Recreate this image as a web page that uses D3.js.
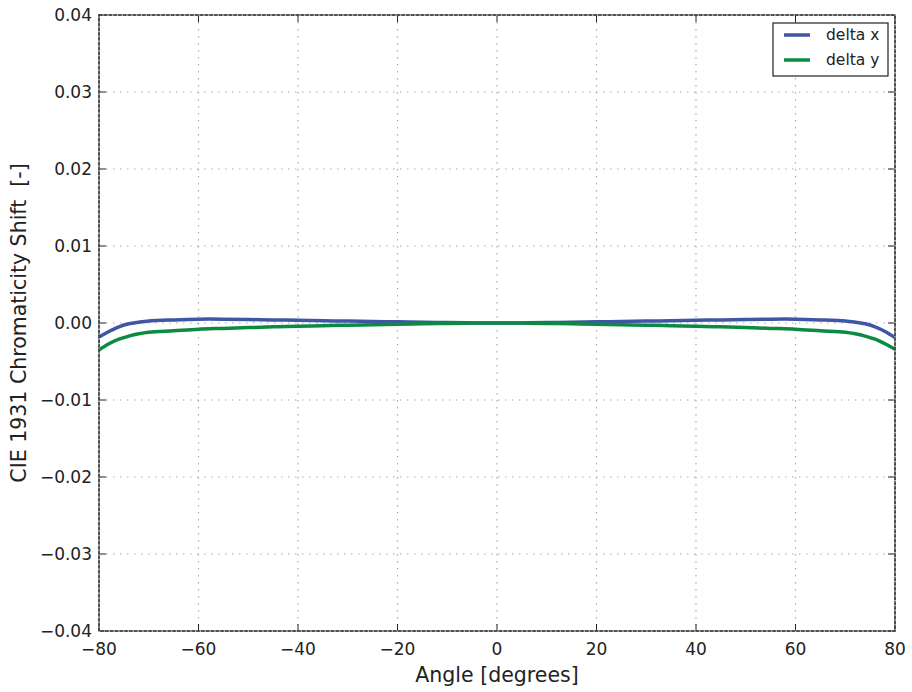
<!DOCTYPE html>
<html><head><meta charset="utf-8">
<script src="https://cdn.jsdelivr.net/npm/d3@7"></script>
<style>body{margin:0;background:#fff;} text{font-family:"DejaVu Sans",sans-serif;fill:#222;white-space:pre;}</style>
</head><body>
<svg id="c" width="912" height="692"></svg>
<script>
const angles = [-80,-78,-76,-74,-72,-70,-65,-60,-55,-50,-45,-40,-35,-30,-25,-20,-15,-10,-5,0,5,10,15,20,25,30,35,40,45,50,55,60,65,70,72,74,76,78,80];
const deltaX = [-0.0018,-0.0011,-0.0005,-0.0001,0.0001,0.00025,0.0004,0.0005,0.0005,0.00045,0.0004,0.00035,0.0003,0.00025,0.0002,0.00015,0.0001,0.00005,0.00001,0,0.00001,0.00005,0.0001,0.00015,0.0002,0.00025,0.0003,0.00035,0.0004,0.00045,0.0005,0.0005,0.0004,0.00025,0.0001,-0.0001,-0.0005,-0.0011,-0.0019];
const deltaY = [-0.0035,-0.0027,-0.0021,-0.0017,-0.0014,-0.0012,-0.001,-0.0008,-0.0007,-0.0006,-0.0005,-0.00042,-0.00035,-0.00028,-0.00022,-0.00016,-0.0001,-0.00005,-0.00001,0,-0.00001,-0.00005,-0.0001,-0.00016,-0.00022,-0.00028,-0.00035,-0.00042,-0.0005,-0.0006,-0.0007,-0.0008,-0.001,-0.0012,-0.0014,-0.0017,-0.0021,-0.0027,-0.0034];
const xTicks = [-80,-60,-40,-20,0,20,40,60,80];
const yTicks = [-0.04,-0.03,-0.02,-0.01,0,0.01,0.02,0.03,0.04];
const seriesNames = ["delta x","delta y"];
const colors = ["#3f56a5","#0b8a43"];

const L=99,R=895,T=15,B=631;
const svg=d3.select("#c");
const x=d3.scaleLinear().domain([-80,80]).range([L,R]);
const y=d3.scaleLinear().domain([-0.04,0.04]).range([B,T]);
const fmtY=d=>(d<0?"\u2212":"")+Math.abs(d).toFixed(2);
const fmtX=d=>(d<0?"\u2212":"")+Math.abs(d);

// grid
const g=svg.append("g");
g.selectAll("line.gx").data(xTicks.slice(1,-1)).join("line")
 .attr("x1",d=>x(d)).attr("x2",d=>x(d)).attr("y1",T).attr("y2",B)
 .attr("stroke","#aaa").attr("stroke-width",1.2).attr("stroke-dasharray","1.5,5.5");
g.selectAll("line.gy").data(yTicks.slice(1,-1)).join("line")
 .attr("y1",d=>y(d)).attr("y2",d=>y(d)).attr("x1",L).attr("x2",R)
 .attr("stroke","#aaa").attr("stroke-width",1.2).attr("stroke-dasharray","1.5,5.5");

// lines
const line=d3.line().x((d,i)=>x(angles[i])).y(d=>y(d)).curve(d3.curveCatmullRom);
[deltaX,deltaY].forEach((s,k)=>{
  svg.append("path").datum(s).attr("d",line).attr("fill","none")
   .attr("stroke",colors[k]).attr("stroke-width",3.5);
});

// axes with inward ticks
const tl=7;
const ax=svg.append("g");
xTicks.forEach(d=>{
  ax.append("line").attr("x1",x(d)).attr("x2",x(d)).attr("y1",B).attr("y2",B-tl).attr("stroke","#222");
  ax.append("line").attr("x1",x(d)).attr("x2",x(d)).attr("y1",T).attr("y2",T+tl).attr("stroke","#222");
  ax.append("text").attr("x",x(d)).attr("y",B+24).attr("text-anchor","middle").attr("font-size",17).text(fmtX(d));
});
yTicks.forEach(d=>{
  ax.append("line").attr("x1",L).attr("x2",L+tl).attr("y1",y(d)).attr("y2",y(d)).attr("stroke","#222");
  ax.append("line").attr("x1",R).attr("x2",R-tl).attr("y1",y(d)).attr("y2",y(d)).attr("stroke","#222");
  ax.append("text").attr("x",L-7).attr("y",y(d)).attr("dy","0.36em").attr("text-anchor","end").attr("font-size",17).text(fmtY(d));
});
// spines
ax.append("rect").attr("x",L).attr("y",T).attr("width",R-L).attr("height",B-T)
 .attr("fill","none").attr("stroke","#999").attr("stroke-width",1.5);
ax.append("rect").attr("x",L).attr("y",T).attr("width",R-L).attr("height",B-T)
 .attr("fill","none").attr("stroke","#333").attr("stroke-width",1.5).attr("stroke-dasharray","3.5,1.3");

// labels
svg.append("text").attr("x",(L+R)/2).attr("y",682).attr("text-anchor","middle").attr("font-size",20.5).text("Angle [degrees]");
svg.append("text").attr("transform",`translate(26,${(T+B)/2}) rotate(-90)`).attr("text-anchor","middle").attr("font-size",20.5).text("CIE 1931 Chromaticity Shift\u00a0\u00a0[-]");

// legend
const lg=svg.append("g");
lg.append("rect").attr("x",773).attr("y",23).attr("width",115).attr("height",53).attr("fill","#fff").attr("stroke","#222").attr("stroke-width",1.2);
seriesNames.forEach((n,i)=>{
  const yy=35+i*25;
  lg.append("line").attr("x1",784).attr("x2",810).attr("y1",yy).attr("y2",yy).attr("stroke",colors[i]).attr("stroke-width",3.5);
  lg.append("text").attr("x",826).attr("y",yy).attr("dy","0.35em").attr("font-size",15.5).text(n);
});
</script>
</body></html>
